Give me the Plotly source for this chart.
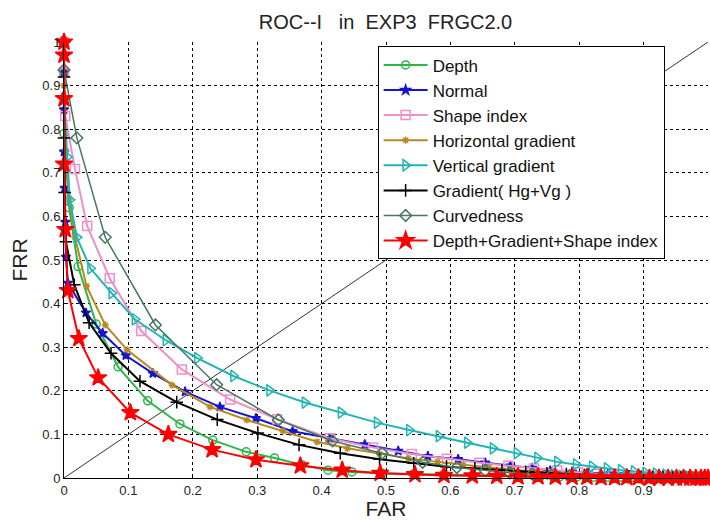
import plotly.graph_objects as go

# ---- data ----
depth_x = [0, 0, 0, 0.008, 0.022, 0.05, 0.084, 0.13, 0.18, 0.231, 0.283, 0.327, 0.37, 0.41, 0.447, 0.494,
           0.542, 0.589, 0.635, 0.674, 0.708, 0.74, 0.77, 0.797, 0.822, 0.845, 0.866, 0.885, 0.903, 0.919,
           0.934, 0.947, 0.959, 0.97, 0.98, 0.988, 0.995, 1.0]
depth_y = [1.0, 0.93, 0.79, 0.62, 0.485, 0.353, 0.255, 0.177, 0.124, 0.087, 0.06, 0.046, 0.03, 0.018, 0.014,
           0.011, 0.009, 0.008, 0.006, 0.005, 0.004, 0.004, 0.003, 0.003, 0.002, 0.002, 0.002, 0.001, 0.001,
           0.001, 0.001, 0, 0, 0, 0, 0, 0, 0]

normal_x = [0, 0, 0, 0, 0.001, 0.002, 0.003, 0.006, 0.034, 0.06, 0.096, 0.138, 0.188, 0.242, 0.298, 0.355,
            0.413, 0.467, 0.519, 0.565, 0.612, 0.654, 0.693, 0.727, 0.755, 0.789, 0.814, 0.845, 0.87, 0.893,
            0.913, 0.931, 0.947, 0.961, 0.973, 0.983, 0.991, 0.997, 1.0]
normal_y = [1.0, 0.93, 0.845, 0.748, 0.665, 0.587, 0.507, 0.447, 0.379, 0.332, 0.281, 0.24, 0.198, 0.163,
            0.137, 0.107, 0.091, 0.077, 0.062, 0.05, 0.043, 0.035, 0.028, 0.023, 0.017, 0.014, 0.012, 0.01,
            0.008, 0.006, 0.005, 0.004, 0.003, 0.002, 0.002, 0.001, 0.001, 0, 0]

shape_x = [0, 0, 0.002, 0.017, 0.036, 0.071, 0.12, 0.183, 0.258, 0.331, 0.413, 0.48, 0.54, 0.595, 0.645,
           0.69, 0.73, 0.766, 0.798, 0.827, 0.853, 0.877, 0.898, 0.917, 0.934, 0.949, 0.962, 0.974, 0.984,
           0.992, 1.0]
shape_y = [1.0, 0.93, 0.83, 0.709, 0.578, 0.458, 0.337, 0.249, 0.18, 0.135, 0.091, 0.07, 0.055, 0.044,
           0.035, 0.028, 0.022, 0.017, 0.013, 0.01, 0.008, 0.006, 0.005, 0.004, 0.003, 0.002, 0.002, 0.001,
           0.001, 0, 0]

hgrad_x = [0, 0, 0.003, 0.008, 0.017, 0.035, 0.064, 0.098, 0.168, 0.227, 0.284, 0.34, 0.393, 0.44, 0.49,
           0.535, 0.58, 0.62, 0.66, 0.695, 0.728, 0.758, 0.786, 0.812, 0.836, 0.858, 0.879, 0.898, 0.916,
           0.932, 0.947, 0.96, 0.972, 0.982, 0.991, 1.0]
hgrad_y = [1.0, 0.9, 0.75, 0.64, 0.553, 0.44, 0.351, 0.294, 0.213, 0.163, 0.133, 0.108, 0.083, 0.068, 0.055,
           0.045, 0.037, 0.03, 0.024, 0.019, 0.015, 0.012, 0.01, 0.008, 0.006, 0.005, 0.004, 0.003, 0.002,
           0.002, 0.001, 0.001, 0.001, 0, 0, 0]

vgrad_x = [0, 0, 0.005, 0.009, 0.02, 0.041, 0.074, 0.11, 0.158, 0.207, 0.263, 0.319, 0.374, 0.43, 0.486,
           0.536, 0.582, 0.626, 0.666, 0.703, 0.735, 0.766, 0.795, 0.82, 0.843, 0.865, 0.885, 0.903, 0.919,
           0.934, 0.947, 0.959, 0.969, 0.978, 0.986, 0.993, 1.0]
vgrad_y = [1.0, 0.87, 0.736, 0.638, 0.552, 0.481, 0.424, 0.364, 0.316, 0.275, 0.234, 0.201, 0.173, 0.15,
           0.127, 0.11, 0.096, 0.081, 0.068, 0.057, 0.046, 0.037, 0.031, 0.026, 0.022, 0.018, 0.015, 0.012,
           0.01, 0.008, 0.006, 0.005, 0.004, 0.003, 0.002, 0.001, 0]

grad_x = [0, 0, 0, 0.001, 0.003, 0.016, 0.039, 0.073, 0.118, 0.175, 0.238, 0.301, 0.365, 0.429, 0.49, 0.543,
          0.594, 0.638, 0.68, 0.717, 0.75, 0.78, 0.808, 0.833, 0.856, 0.877, 0.896, 0.914, 0.93, 0.945, 0.958,
          0.97, 0.98, 0.989, 0.996, 1.0]
grad_y = [1.0, 0.92, 0.78, 0.655, 0.542, 0.443, 0.356, 0.286, 0.222, 0.174, 0.134, 0.103, 0.076, 0.057,
          0.043, 0.034, 0.026, 0.022, 0.018, 0.014, 0.011, 0.009, 0.007, 0.006, 0.005, 0.004, 0.003, 0.002,
          0.002, 0.001, 0.001, 0.001, 0, 0, 0, 0]

curv_x = [0, 0, 0.02, 0.064, 0.142, 0.237, 0.333, 0.417, 0.494, 0.557, 0.61, 0.654, 0.692, 0.727, 0.757,
          0.785, 0.81, 0.833, 0.855, 0.875, 0.893, 0.91, 0.926, 0.94, 0.953, 0.965, 0.976, 0.986, 0.994, 1.0]
curv_y = [1.0, 0.936, 0.78, 0.552, 0.351, 0.214, 0.133, 0.085, 0.057, 0.036, 0.024, 0.017, 0.012, 0.009,
          0.007, 0.005, 0.004, 0.003, 0.003, 0.002, 0.002, 0.001, 0.001, 0.001, 0, 0, 0, 0, 0, 0]

fused_x = [0, 0, 0, 0, 0.002, 0.006, 0.023, 0.053, 0.103, 0.162, 0.23, 0.298, 0.367, 0.432, 0.491, 0.545,
           0.59, 0.634, 0.672, 0.705, 0.736, 0.763, 0.789, 0.812, 0.834, 0.855, 0.874, 0.892, 0.909, 0.924,
           0.938, 0.951, 0.962, 0.972, 0.981, 0.989, 0.995, 1.0]
fused_y = [1.0, 0.97, 0.87, 0.72, 0.57, 0.43, 0.32, 0.23, 0.15, 0.10, 0.065, 0.042, 0.028, 0.018, 0.011,
           0.008, 0.006, 0.005, 0.004, 0.003, 0.003, 0.002, 0.002, 0.002, 0.001, 0.001, 0.001, 0.001, 0, 0,
           0, 0, 0, 0, 0, 0, 0, 0]

diag_x = [0, 1]
diag_y = [0, 1]

tick_vals = [0, 0.1, 0.2, 0.3, 0.4, 0.5, 0.6, 0.7, 0.8, 0.9, 1]
tick_text = ["0", "0.1", "0.2", "0.3", "0.4", "0.5", "0.6", "0.7", "0.8", "0.9", "1"]

series = [
    ("Depth", depth_x, depth_y, "#2fb54a", "circle-open", 8, 2),
    ("Normal", normal_x, normal_y, "#1414d2", "star", 7, 2),
    ("Shape index", shape_x, shape_y, "#ef8fca", "square-open", 9, 2),
    ("Horizontal gradient", hgrad_x, hgrad_y, "#b8891f", "asterisk-open", 6, 2),
    ("Vertical gradient", vgrad_x, vgrad_y, "#22b4b4", "triangle-right-open", 10, 2),
    ("Gradient( Hg+Vg )", grad_x, grad_y, "#000000", "cross-thin-open", 9, 2),
    ("Curvedness", curv_x, curv_y, "#44785e", "diamond-open", 9, 1.5),
    ("Depth+Gradient+Shape index", fused_x, fused_y, "#ff0000", "star", 13, 2),
]

FONT = "Liberation Sans, Arial, sans-serif"

fig = go.Figure()
fig.add_trace(go.Scatter(x=diag_x, y=diag_y, mode="lines", line=dict(color="#333333", width=1),
                         showlegend=False, hoverinfo="skip"))
for name, xs, ys, col, sym, size, lw in series:
    fig.add_trace(go.Scatter(
        x=xs, y=ys, name=name, mode="lines+markers", cliponaxis=False,
        line=dict(color=col, width=lw),
        marker=dict(symbol=sym, size=size, color=col, line=dict(color=col, width=1.5)),
    ))

axis_common = dict(
    range=[0, 1], tickvals=tick_vals, ticktext=tick_text,
    showgrid=True, gridcolor="#000000", gridwidth=1, griddash="3px,3px",
    showline=True, linecolor="#000000", linewidth=1, zeroline=False,
    ticks="inside", ticklen=4, tickcolor="#000000",
    tickfont=dict(family=FONT, size=13, color="#222222"),
)

fig.update_layout(
    width=710, height=520,
    margin=dict(l=64, r=2, t=42, b=42),
    paper_bgcolor="white", plot_bgcolor="white",
    title=dict(text="ROC--I\u00a0\u00a0\u00a0in\u00a0\u00a0EXP3\u00a0\u00a0FRGC2.0", x=0.543, xanchor="center",
               y=0.957, yanchor="middle",
               font=dict(family=FONT, size=20, color="#222222")),
    xaxis=dict(axis_common, title=dict(text="FAR", standoff=7,
                                       font=dict(family=FONT, size=21, color="#222222"))),
    yaxis=dict(axis_common, title=dict(text="FRR", standoff=8,
                                       font=dict(family=FONT, size=21, color="#222222"))),
    legend=dict(x=0.487, y=0.99, xanchor="left", yanchor="top", bgcolor="white",
                bordercolor="#000000", borderwidth=1, tracegroupgap=0, itemwidth=44,
                font=dict(family=FONT, size=17, color="#111111")),
    showlegend=True,
)

fig.write_html("out.html")
